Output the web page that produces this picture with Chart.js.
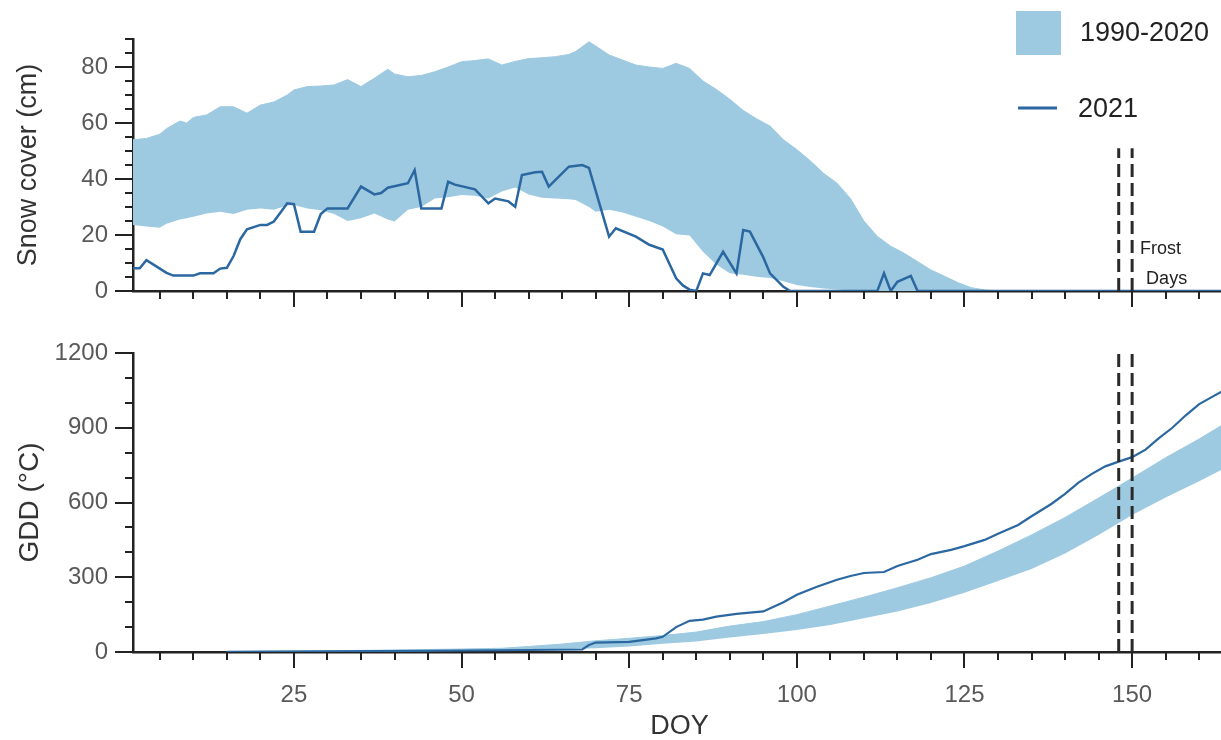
<!DOCTYPE html>
<html><head><meta charset="utf-8">
<script src="https://cdn.jsdelivr.net/npm/chart.js@4.4.1/dist/chart.umd.min.js"></script>
<style>
html,body{margin:0;padding:0;background:#fff;overflow:hidden;width:1221px;height:740px;}
#wrap{position:relative;width:1221px;height:740px;overflow:hidden;background:#fff;}
canvas{position:absolute;left:0;}
#c1{top:0;} #c2{top:330px;}
</style></head><body>
<div id="wrap"><canvas id="c1" width="1232" height="330"></canvas><canvas id="c2" width="1232" height="410"></canvas></div>
<script>
// ---------- data ----------
const snowBandDoy = [1,3,5,6,8,9,10,12,14,16,18,20,22,24,25,27,29,31,33,35,37,39,40,42,44,46,48,50,52,54,56,58,60,62,64,66,67,69,70,72,74,76,78,80,82,84,86,88,90,92,94,96,98,100,102,104,106,108,110,112,114,116,118,120,122,124,126,128,130];
const snowBandHi = [54,54.5,56,58,60.7,60,62,62.9,65.8,65.8,63.5,66.4,67.5,70,71.8,73,73.2,73.6,75.5,73,76,79.2,77.5,76.5,77,78.3,80,81.9,82.3,82.9,80.7,82,83,83.3,83.7,84.5,85.5,89,87.5,84.3,82.5,80.7,80,79.5,81.3,79.5,75,72,68.5,64.5,61.5,58.9,54,50.5,46.5,42,38.5,33,25,19.5,16,13.5,10.5,7.5,5.3,3,1.2,0.4,0];
const snowBandLo = [23.6,23,22.6,24,25.5,26,26.5,27.7,28.3,27.5,29,29.5,29,30.5,30.7,29.5,28.8,27.5,25,26,27.7,25.5,24.8,29,30,33,33.5,34.3,34,33,35.5,37,34.5,33.3,33,32.8,32.5,30,28.3,29,28,26.5,25,23,20.3,19.8,14,9.5,6.3,5.8,5.1,4.6,3.5,2.1,1.4,0.9,0.5,0.2,0,0,0,0,0,0,0,0,0,0,0];

const snowDoy = [1,2,3,4,5,6,7,9,10,11,13,14,15,16,17,18,20,21,22,23,24,25,26,28,29,30,33,35,37,38,39,42,43,44,47,48,49,52,54,55,57,58,59,61,62,63,66,68,69,72,73,76,78,80,82,83,84,85,86,87,89,91,92,93,95,96,98,99,112,113,114,115,117,118,164];
const snow2021 = [8.1,8.1,11,9.5,8,6.5,5.5,5.5,5.5,6.3,6.3,8,8.3,12.5,18.5,22,23.6,23.6,24.8,28,31.3,31,21.2,21.2,27.5,29.5,29.5,37.3,34.5,35,36.9,38.5,43.2,29.5,29.5,39,38,36.3,31.3,33,32,30.1,41.4,42.4,42.6,37.3,44.4,45,44,19.4,22.4,19.4,16.5,14.8,4.5,2,0.5,0,6.3,5.7,14,6.3,21.8,21.2,12,6.3,1.5,0,0,6.3,0,3.3,5.4,0,0];

const gddBandDoy = [15,30,40,50,56,60,65,70,75,80,85,90,95,100,105,110,115,120,125,130,135,140,145,150,155,160,164];
const gddBandHi = [2,5,8,12,15,22,32,45,55,66,80,104,122,150,185,220,258,298,345,405,470,540,618,698,780,855,920];
const gddBandLo = [0,1,2,4,6,8,11,15,22,33,42,58,72,88,108,135,163,197,238,285,333,395,470,550,620,685,740];

const gddDoy = [15,30,45,55,60,68,69,70,75,79,80,82,84,86,88,91,95,98,100,103,106,108,110,113,115,118,120,123,125,128,130,133,135,138,140,142,144,146,148,150,152,154,156,158,160,162,164];
const gdd2021 = [1,3,5,7,8,10,28,38,41,55,61,100,125,130,142,153,163,200,230,262,290,305,317,321,345,370,393,410,425,450,475,510,545,595,635,680,715,745,764,782,812,858,900,950,995,1025,1055];

const frostDays = [148, 150];
const xTickLabels = [25, 50, 75, 100, 125, 150];
const snowTicks = [0, 20, 40, 60, 80];
const gddTicks = [0, 300, 600, 900, 1200];
const seriesNames = ['1990-2020', '2021'];

// ---------- styles ----------
const FONT = '"Liberation Sans", Arial, Helvetica, sans-serif';
const BAND = '#9ecae1';
const LINE = '#2b67a0';
const AXIS = '#222222';
const TICKC = '#595959';
const TITLEC = '#333333';

const pts = (xs, ys) => xs.map((x, i) => ({x: x, y: ys[i]}));

function tickMarks(cfg) {
  return {
    id: 'tickMarks',
    afterDraw(chart) {
      const {ctx} = chart;
      const xs = chart.scales.x, ys = chart.scales.y;
      const area = chart.chartArea;
      ctx.save();
      ctx.strokeStyle = AXIS;
      ctx.lineWidth = 2;
      for (let v = Math.ceil(xs.min / 5) * 5; v <= xs.max; v += 5) {
        const px = Math.round(xs.getPixelForValue(v));
        const len = (v % 25 === 0) ? 16 : 8;
        ctx.beginPath(); ctx.moveTo(px, area.bottom); ctx.lineTo(px, area.bottom + len); ctx.stroke();
      }
      for (let v = 0; v <= ys.max + 1e-9; v += cfg.yMinor) {
        const py = Math.round(ys.getPixelForValue(v));
        const len = (Math.abs(v % cfg.yMajor) < 1e-9) ? 18 : 8;
        ctx.beginPath(); ctx.moveTo(area.left, py); ctx.lineTo(area.left - len, py); ctx.stroke();
      }
      ctx.restore();
    }
  };
}

function frostLines(topVal) {
  return {
    id: 'frostLines',
    afterDatasetsDraw(chart) {
      const {ctx} = chart;
      const xs = chart.scales.x, ys = chart.scales.y;
      ctx.save();
      ctx.strokeStyle = '#2a2a2a';
      ctx.lineWidth = 3;
      ctx.setLineDash([13, 6]);
      frostDays.forEach(d => {
        const px = xs.getPixelForValue(d);
        ctx.beginPath();
        ctx.moveTo(px, ys.getPixelForValue(0));
        ctx.lineTo(px, ys.getPixelForValue(topVal));
        ctx.stroke();
      });
      ctx.restore();
    }
  };
}

const topExtras = {
  id: 'topExtras',
  afterDraw(chart) {
    const {ctx} = chart;
    const xs = chart.scales.x;
    const area = chart.chartArea;
    ctx.save();
    ctx.fillStyle = BAND;
    ctx.fillRect(1016, 11, 45, 44);
    ctx.strokeStyle = LINE; ctx.lineWidth = 3;
    ctx.beginPath(); ctx.moveTo(1018, 108); ctx.lineTo(1057, 108); ctx.stroke();
    ctx.fillStyle = '#222';
    ctx.font = '27px ' + FONT;
    ctx.textBaseline = 'middle'; ctx.textAlign = 'left';
    ctx.fillText(seriesNames[0], 1080, 34);
    ctx.fillText(seriesNames[1], 1078, 110);
    const px = xs.getPixelForValue(frostDays[1]);
    ctx.font = '18px ' + FONT;
    ctx.fillText('Frost', px + 8, area.bottom - 42);
    ctx.fillText('Days', px + 14, area.bottom - 12);
    ctx.restore();
  }
};

function noPad(s) { s.paddingTop = 0; s.paddingBottom = 0; s.paddingLeft = 0; s.paddingRight = 0; }

function makeScales(cfg) {
  return {
    x: {
      type: 'linear', min: 1, max: 164, z: 1,
      grid: {display: false, drawTicks: false},
      border: {display: true, color: AXIS, width: 2.5},
      ticks: {display: cfg.xLabels, padding: 29, color: TICKC,
              font: {family: FONT, size: 24}, maxRotation: 0, autoSkip: false,
              callback: v => String(v)},
      afterBuildTicks: s => { s.ticks = xTickLabels.map(v => ({value: v})); },
      afterFit: s => { s.height = cfg.xHeight; noPad(s); },
      title: cfg.xLabels ? {display: true, text: 'DOY', color: TITLEC,
              font: {family: FONT, size: 27, lineHeight: 1}, padding: 0} : {display: false}
    },
    y: {
      type: 'linear', min: 0, max: cfg.yMax, z: 1,
      grid: {display: false, drawTicks: false},
      border: {display: true, color: AXIS, width: 2.5},
      ticks: {padding: 25, color: TICKC, font: {family: FONT, size: 24}, callback: v => String(v)},
      afterBuildTicks: s => { s.ticks = cfg.yTicks.map(v => ({value: v})); },
      afterFit: s => { s.width = 133; noPad(s); },
      title: {display: true, text: cfg.yTitle, color: TITLEC,
              font: {family: FONT, size: cfg.yTitleSize, lineHeight: 1.2}, padding: {top: cfg.yTitlePad, bottom: 0}}
    }
  };
}

const common = {
  responsive: false, animation: false, events: [],
  plugins: {legend: {display: false}, tooltip: {enabled: false}},
  elements: {point: {radius: 0}, line: {tension: 0}}
};

new Chart(document.getElementById('c1'), {
  type: 'line',
  data: {datasets: [
    {label: seriesNames[1], data: pts(snowDoy, snow2021), borderColor: LINE, borderWidth: 2.5, fill: false, order: 0},
    {label: 'lo', data: pts(snowBandDoy, snowBandLo), borderColor: 'rgba(0,0,0,0)', borderWidth: 0, fill: false, order: 1},
    {label: seriesNames[0], data: pts(snowBandDoy, snowBandHi), borderColor: BAND, borderWidth: 1, backgroundColor: BAND, fill: '-1', order: 1}
  ]},
  options: Object.assign({}, common, {
    layout: {padding: {top: 39, right: 6, left: 0, bottom: 0}},
    scales: makeScales({xLabels: false, xHeight: 39, yMax: 90, yTicks: snowTicks,
      yTitle: 'Snow cover (cm)', yTitleSize: 27, yTitlePad: 12})
  }),
  plugins: [tickMarks({yMajor: 20, yMinor: 5}), frostLines(51), topExtras]
});

new Chart(document.getElementById('c2'), {
  type: 'line',
  data: {datasets: [
    {label: seriesNames[1], data: pts(gddDoy, gdd2021), borderColor: LINE, borderWidth: 2.2, fill: false, order: 0},
    {label: 'lo', data: pts(gddBandDoy, gddBandLo), borderColor: 'rgba(0,0,0,0)', borderWidth: 0, fill: false, order: 1},
    {label: seriesNames[0], data: pts(gddBandDoy, gddBandHi), borderColor: BAND, borderWidth: 1, backgroundColor: BAND, fill: '-1', order: 1}
  ]},
  options: Object.assign({}, common, {
    layout: {padding: {top: 23, right: 6, left: 0, bottom: 0}},
    scales: makeScales({xLabels: true, xHeight: 88, yMax: 1200, yTicks: gddTicks,
      yTitle: 'GDD (°C)', yTitleSize: 28, yTitlePad: 13})
  }),
  plugins: [tickMarks({yMajor: 300, yMinor: 100}), frostLines(1200)]
});
</script>
</body></html>
